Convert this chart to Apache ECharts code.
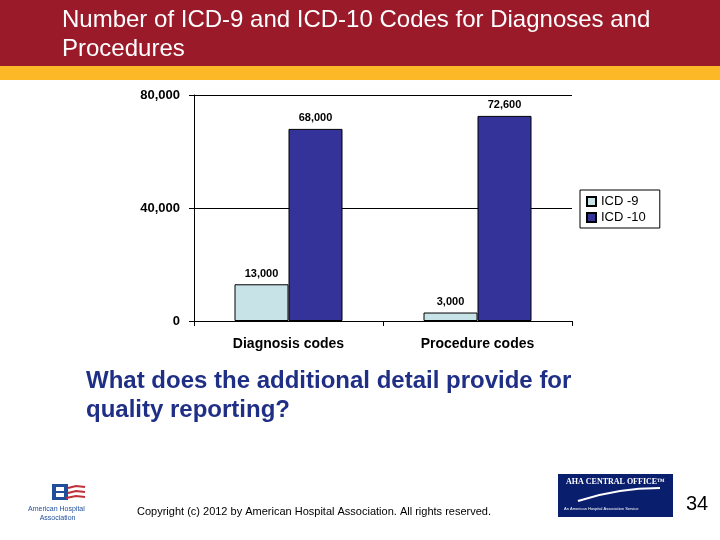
<!DOCTYPE html>
<html>
<head>
<meta charset="utf-8">
<script src="https://cdn.jsdelivr.net/npm/echarts@6/dist/echarts.min.js"></script>
<style>
  html, body { margin: 0; padding: 0; background: #fff; }
  #main { width: 720px; height: 540px; }
</style>
</head>
<body>
<div id="main"></div>
<script>
// chart data
var categories = ['Diagnosis codes', 'Procedure codes'];
var icd9 = [13000, 3000];
var icd10 = [68000, 72600];
var seriesNames = ['ICD -9', 'ICD -10'];
var yTicks = [0, 40000, 80000];

var fmt = function (v) { return Number(v).toLocaleString('en-US'); };

var chart = echarts.init(document.getElementById('main'));

var barLabel = {
  show: true,
  position: 'top',
  distance: 5,
  fontFamily: 'Liberation Sans',
  fontWeight: 'bold',
  fontSize: 11,
  color: '#000',
  formatter: function (p) { return fmt(p.value); }
};

chart.setOption({
  animation: false,
  backgroundColor: '#fff',
  grid: { left: 194, right: 148, top: 95, bottom: 219 },
  legend: {
    orient: 'vertical',
    left: 580,
    top: 190,
    padding: [5, 14, 4, 6],
    itemGap: 3,
    itemWidth: 9,
    itemHeight: 9,
    backgroundColor: '#fff',
    borderColor: '#000',
    borderWidth: 1,
    borderRadius: 0,
    textStyle: { fontFamily: 'Liberation Sans', fontSize: 13, color: '#000' },
    data: seriesNames.map(function (n) { return { name: n, icon: 'rect' }; })
  },
  xAxis: {
    type: 'category',
    data: categories,
    axisLine: { lineStyle: { color: '#000' } },
    axisTick: { show: true, length: 5, lineStyle: { color: '#000' } },
    axisLabel: {
      margin: 16,
      fontFamily: 'Liberation Sans',
      fontWeight: 'bold',
      fontSize: 14,
      color: '#000'
    }
  },
  yAxis: {
    type: 'value',
    min: 0,
    max: 80000,
    interval: 40000,
    axisLine: { show: true, lineStyle: { color: '#000' } },
    axisTick: { show: true, length: 5, lineStyle: { color: '#000' } },
    splitLine: { show: true, lineStyle: { color: '#000' } },
    axisLabel: {
      margin: 14,
      fontFamily: 'Liberation Sans',
      fontWeight: 'bold',
      fontSize: 13,
      color: '#000',
      formatter: function (v) { return yTicks.indexOf(v) >= 0 ? fmt(v) : ''; }
    }
  },
  series: [
    {
      name: seriesNames[0],
      type: 'bar',
      data: icd9,
      barWidth: 54,
      barGap: '0%',
      itemStyle: { color: '#C8E3E7', borderColor: '#000', borderWidth: 1 },
      label: barLabel
    },
    {
      name: seriesNames[1],
      type: 'bar',
      data: icd10,
      barWidth: 54,
      barGap: '0%',
      itemStyle: { color: '#333399', borderColor: '#000', borderWidth: 1 },
      label: barLabel
    }
  ],
  graphic: [
    { type: 'rect', left: 0, top: 0, shape: { width: 720, height: 66 }, style: { fill: '#9A1A2A' }, z: 0 },
    { type: 'rect', left: 0, top: 66, shape: { width: 720, height: 14 }, style: { fill: '#FDB827' }, z: 0 },
    {
      type: 'text', left: 62, top: 6,
      style: {
        text: 'Number of ICD-9 and ICD-10 Codes for Diagnoses and\nProcedures',
        fill: '#fff', font: '24px "Liberation Sans", Arial, sans-serif', lineHeight: 29
      }
    },
    {
      type: 'text', left: 86, top: 367,
      style: {
        text: 'What does the additional detail provide for\nquality reporting?',
        fill: '#1F2F86', font: 'bold 24px "Liberation Sans", Arial, sans-serif', lineHeight: 29
      }
    },
    {
      type: 'text', left: 137, top: 506,
      style: {
        text: 'Copyright (c) 2012 by American Hospital Association. All rights reserved.',
        fill: '#000', font: '11px "Liberation Sans", Arial, sans-serif'
      }
    },
    {
      type: 'text', left: 686, top: 494,
      style: { text: '34', fill: '#000', font: '20px "Liberation Sans", Arial, sans-serif' }
    },
    // AHA logo (left)
    { type: 'rect', left: 52, top: 484, shape: { width: 16, height: 16 }, style: { fill: '#1F4E9A' } },
    { type: 'rect', left: 56, top: 487, shape: { width: 8, height: 10 }, style: { fill: '#fff' } },
    { type: 'rect', left: 56, top: 491, shape: { width: 8, height: 2 }, style: { fill: '#1F4E9A' } },
    { type: 'polyline', shape: { points: [[68, 488], [76, 486], [85, 487]] }, style: { stroke: '#C0303A', lineWidth: 2, fill: null } },
    { type: 'polyline', shape: { points: [[68, 493], [76, 491], [85, 492]] }, style: { stroke: '#C0303A', lineWidth: 2, fill: null } },
    { type: 'polyline', shape: { points: [[66, 498], [76, 496], [85, 497]] }, style: { stroke: '#C0303A', lineWidth: 2, fill: null } },
    {
      type: 'text', left: 28, top: 505,
      style: { text: 'American Hospital\n      Association', fill: '#1F4E9A', font: '7px "Liberation Sans", Arial, sans-serif', lineHeight: 9 }
    },
    // Central Office logo (right)
    { type: 'rect', left: 558, top: 474, shape: { width: 115, height: 43 }, style: { fill: '#0A1E6E' } },
    {
      type: 'text', left: 566, top: 478,
      style: { text: 'AHA CENTRAL OFFICE\u2122', fill: '#fff', font: 'bold 8px "Liberation Serif", serif' }
    },
    { type: 'bezierCurve', shape: { x1: 578, y1: 501, x2: 660, y2: 488, cpx1: 605, cpy1: 492, cpx2: 635, cpy2: 488 }, style: { stroke: '#fff', lineWidth: 2, fill: null } },
    {
      type: 'text', left: 564, top: 507,
      style: { text: 'An American Hospital Association Service', fill: '#fff', font: '4px "Liberation Sans", Arial, sans-serif' }
    }
  ]
});
</script>
</body>
</html>
